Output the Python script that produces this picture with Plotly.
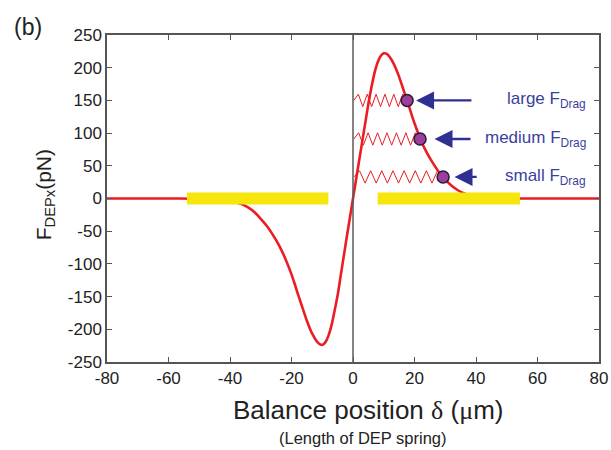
import numpy as np
import plotly.graph_objects as go

# ---- data ----
curve_x = [-80, -60, -52, -48, -44, -40, -38, -36, -34, -32, -30, -28, -26, -24, -22, -20,
           -19, -18, -17, -16, -15, -14, -13, -12, -11, -10, -9, -8, -7, -6, -5, -4, -3, -2, -1,
           0, 1, 2, 3, 4, 5, 6, 7, 8, 9, 10, 11, 12, 13, 14, 15, 16, 17, 18, 19, 20,
           22, 24, 26, 28, 30, 32, 34, 36, 38, 40, 44, 48, 52, 60, 80]
curve_y = [0, 0, -0.3, -1, -2.5, -4, -6, -9, -14, -21, -31, -42, -56, -72, -92, -116,
           -130, -145, -159, -173, -187, -199, -209, -217, -222, -224, -220, -210, -194, -172, -148, -118, -88, -58, -29,
           0, 29, 58, 87, 116, 145, 170, 192, 208, 218, 222, 221, 216, 208, 198, 186, 172, 158, 144, 129, 115,
           90, 70, 54, 40, 29, 20, 13, 8, 4.5, 2.5, 1, 0.3, 0, 0, 0]

ball_x = [17.6, 21.8, 29.3]
ball_y = [150, 91, 33]
spring_teeth = [6, 7, 8]
spring_start = 0.3

arrow_tail_x = [39.0, 38.7, 40.7]
arrow_head_x = [20.5, 26.5, 33.0]
labels = ["large F<sub>Drag</sub>", "medium F<sub>Drag</sub>", "small F<sub>Drag</sub>"]

bar_start = [-54.0, 8.0]
bar_end = [-8.0, 54.3]

x_ticks = [-80, -60, -40, -20, 0, 20, 40, 60, 80]
x_tick_text = ["-80", "-60", "-40", "-20", "0", "20", "40", "60", "80"]
y_ticks = [250, 200, 150, 100, 50, 0, -50, -100, -150, -200, -250]
y_tick_text = ["250", "200", "150", "100", "50", "0", "-50", "-100", "-150", "-200", "-250"]

RED = "#ec1c24"
BLUE = "#2e3192"
TEXT_BLUE = "#3a3f9e"
YELLOW = "#f6e60c"
AXIS = "#555555"
FONT = "Liberation Sans, Arial"

fig = go.Figure()

# main DEP force curve
fig.add_trace(go.Scatter(x=curve_x, y=curve_y, mode="lines",
                         line=dict(color=RED, width=2.6, shape="spline", smoothing=0.6),
                         hoverinfo="skip"))

# springs (zigzags from the origin to each ball)
amp = 9.5
for bx, by, n in zip(ball_x, ball_y, spring_teeth):
    npts = 2 * n + 1
    xs = np.linspace(spring_start, bx, npts)
    ys = [by] + [by + (amp if i % 2 else -amp) for i in range(1, npts - 1)] + [by]
    fig.add_trace(go.Scatter(x=xs, y=ys, mode="lines",
                             line=dict(color=RED, width=1),
                             hoverinfo="skip"))

# vertical zero line
fig.add_trace(go.Scatter(x=[0, 0], y=[-250, 250], mode="lines",
                         line=dict(color="#5a5a5a", width=1.5), hoverinfo="skip"))

# yellow bars
for s, e in zip(bar_start, bar_end):
    fig.add_trace(go.Scatter(x=[s, e], y=[0, 0], mode="lines",
                             line=dict(color=YELLOW, width=12), hoverinfo="skip"))

# balls
fig.add_trace(go.Scatter(x=ball_x, y=ball_y, mode="markers",
                         marker=dict(size=12, color="#9b3e9c",
                                     line=dict(color="#2a1a3a", width=1.5)),
                         hoverinfo="skip"))

annotations = []
for tx, hx, by, lab in zip(arrow_tail_x, arrow_head_x, ball_y, labels):
    annotations.append(dict(x=hx, y=by, ax=tx, ay=by, xref="x", yref="y",
                            axref="x", ayref="y", text="", showarrow=True,
                            arrowhead=2, arrowsize=1.5, arrowwidth=2.4,
                            arrowcolor=BLUE))
    annotations.append(dict(x=76.4, y=by, xref="x", yref="y", text=lab,
                            showarrow=False, xanchor="right", yanchor="middle",
                            font=dict(family=FONT, size=17, color=TEXT_BLUE)))

# panel label
annotations.append(dict(x=(12 - 107) / 492, y=(362 - 27) / 327, xref="paper", yref="paper",
                        text="(b)", showarrow=False, xanchor="left", yanchor="middle",
                        font=dict(family=FONT, size=23, color="#222")))
# y title
annotations.append(dict(x=-0.126, y=0.51, xref="paper", yref="paper",
                        text="F<sub>DEPx</sub>(pN)", textangle=-90, showarrow=False,
                        xanchor="center", yanchor="middle",
                        font=dict(family=FONT, size=21, color="#222")))
# x title
annotations.append(dict(x=0.53, y=-0.148, xref="paper", yref="paper",
                        text="Balance position <span style='font-family:Liberation Serif'>δ</span> (<span style='font-family:Liberation Serif'>μ</span>m)",
                        showarrow=False, xanchor="center", yanchor="middle",
                        font=dict(family=FONT, size=26, color="#222")))
annotations.append(dict(x=0.52, y=-0.232, xref="paper", yref="paper",
                        text="(Length of DEP spring)", showarrow=False,
                        xanchor="center", yanchor="middle",
                        font=dict(family=FONT, size=16.5, color="#222")))

fig.update_layout(
    width=611, height=450,
    margin=dict(l=107, r=12, t=35, b=88),
    paper_bgcolor="white", plot_bgcolor="white",
    showlegend=False,
    annotations=annotations,
    font=dict(family=FONT, size=17, color="#222"),
    xaxis=dict(range=[-80, 80], tickvals=x_ticks, ticktext=x_tick_text,
               ticks="inside", ticklen=5, automargin=False,
               tickcolor=AXIS, showline=True, linecolor=AXIS, linewidth=1.5,
               mirror="ticks", showgrid=False, zeroline=False,
               tickfont=dict(size=17)),
    yaxis=dict(range=[-250, 250], tickvals=y_ticks, ticktext=y_tick_text,
               ticks="inside", ticklen=5, automargin=False,
               tickcolor=AXIS, showline=True, linecolor=AXIS, linewidth=1.5,
               mirror="ticks", showgrid=False, zeroline=False,
               tickfont=dict(size=17)),
)

fig.write_html("out.html")
